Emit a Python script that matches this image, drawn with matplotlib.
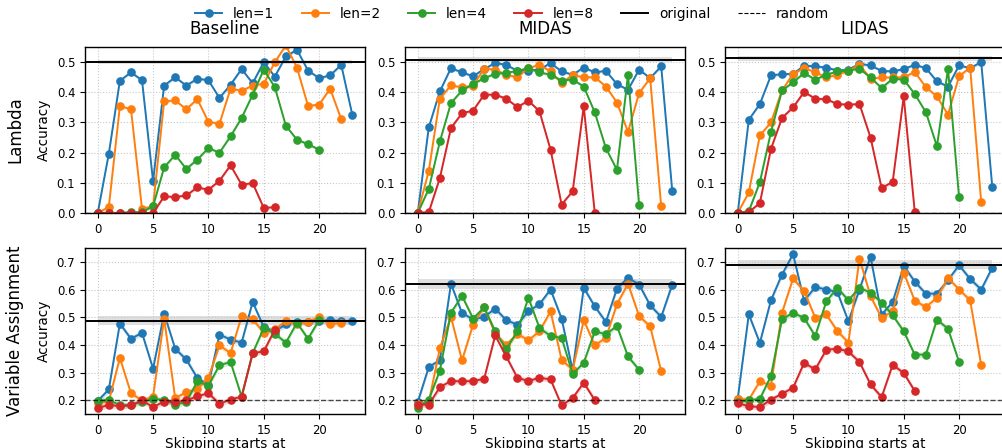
import numpy as np
import matplotlib
matplotlib.use("Agg")
import matplotlib.pyplot as plt
from matplotlib.lines import Line2D

lens = ["len=1", "len=2", "len=4", "len=8"]
colors = ["tab:blue", "tab:orange", "tab:green", "tab:red"]
methods = ["Baseline", "MIDAS", "LIDAS"]
tasks = ["Lambda", "Variable Assignment"]

# Lambda
lam_base_1 = [0.0, 0.196, 0.438, 0.466, 0.44, 0.105, 0.422, 0.45, 0.422, 0.445, 0.44, 0.381,
              0.425, 0.477, 0.43, 0.5, 0.452, 0.519, 0.541, 0.472, 0.447, 0.456, 0.491, 0.326]
lam_base_2 = [0.0, 0.02, 0.353, 0.345, 0.014, 0.022, 0.37, 0.373, 0.344, 0.377, 0.302, 0.296,
              0.412, 0.405, 0.422, 0.428, 0.5, 0.555, 0.482, 0.355, 0.359, 0.412, 0.311]
lam_base_4 = [0.0, 0.0, 0.0, 0.003, 0.003, 0.022, 0.151, 0.193, 0.146, 0.177, 0.215, 0.2,
              0.254, 0.315, 0.392, 0.475, 0.417, 0.289, 0.243, 0.228, 0.21]
lam_base_8 = [0.0, 0.0, 0.0, 0.0, 0.0, 0.0, 0.055, 0.053, 0.058, 0.085, 0.077, 0.107,
              0.158, 0.094, 0.099, 0.017, 0.019]

lam_midas_1 = [0.0, 0.284, 0.403, 0.48, 0.466, 0.453, 0.477, 0.497, 0.491, 0.471, 0.472, 0.475,
               0.497, 0.469, 0.458, 0.482, 0.466, 0.471, 0.427, 0.408, 0.475, 0.447, 0.486, 0.072]
lam_midas_2 = [0.0, 0.14, 0.379, 0.423, 0.416, 0.422, 0.478, 0.475, 0.458, 0.45, 0.48, 0.491,
               0.469, 0.43, 0.458, 0.449, 0.45, 0.419, 0.366, 0.269, 0.397, 0.447, 0.022]
lam_midas_4 = [0.0, 0.08, 0.237, 0.364, 0.406, 0.427, 0.447, 0.461, 0.464, 0.471, 0.48, 0.466,
               0.458, 0.439, 0.442, 0.419, 0.333, 0.215, 0.143, 0.458, 0.028]
lam_midas_8 = [0.0, 0.003, 0.116, 0.281, 0.331, 0.339, 0.392, 0.392, 0.379, 0.351, 0.372, 0.337,
               0.21, 0.028, 0.072, 0.353, 0.0]

lam_lidas_1 = [0.0, 0.309, 0.361, 0.456, 0.46, 0.461, 0.488, 0.486, 0.482, 0.472, 0.475, 0.494,
               0.489, 0.471, 0.469, 0.477, 0.491, 0.48, 0.436, 0.419, 0.489, 0.48, 0.5, 0.086]
lam_lidas_2 = [0.0, 0.068, 0.257, 0.3, 0.406, 0.461, 0.48, 0.467, 0.449, 0.458, 0.471, 0.491,
               0.445, 0.449, 0.449, 0.45, 0.467, 0.417, 0.386, 0.326, 0.453, 0.482, 0.036]
lam_lidas_4 = [0.0, 0.006, 0.102, 0.268, 0.406, 0.433, 0.464, 0.442, 0.458, 0.469, 0.472, 0.478,
               0.449, 0.414, 0.445, 0.442, 0.394, 0.334, 0.221, 0.478, 0.052]
lam_lidas_8 = [0.0, 0.003, 0.033, 0.212, 0.315, 0.35, 0.401, 0.379, 0.377, 0.361, 0.359, 0.361,
               0.25, 0.083, 0.103, 0.386, 0.002]

# Variable Assignment
va_base_1 = [0.197, 0.239, 0.477, 0.422, 0.443, 0.314, 0.513, 0.386, 0.347, 0.28, 0.256, 0.437,
             0.419, 0.408, 0.555, 0.464, 0.449, 0.474, 0.483, 0.483, 0.486, 0.489, 0.486, 0.486]
va_base_2 = [0.19, 0.196, 0.353, 0.225, 0.199, 0.213, 0.495, 0.207, 0.229, 0.24, 0.281, 0.398,
             0.37, 0.504, 0.492, 0.444, 0.456, 0.485, 0.474, 0.483, 0.5, 0.474, 0.479]
va_base_4 = [0.196, 0.202, 0.181, 0.184, 0.193, 0.205, 0.201, 0.184, 0.193, 0.268, 0.253, 0.326,
             0.338, 0.213, 0.37, 0.461, 0.44, 0.408, 0.48, 0.422, 0.489]
va_base_8 = [0.171, 0.183, 0.178, 0.181, 0.199, 0.175, 0.195, 0.193, 0.199, 0.214, 0.225, 0.187,
             0.202, 0.213, 0.37, 0.376, 0.455]

va_midas_1 = [0.193, 0.32, 0.344, 0.621, 0.515, 0.492, 0.501, 0.531, 0.489, 0.473, 0.521, 0.547,
              0.6, 0.495, 0.307, 0.606, 0.539, 0.483, 0.603, 0.642, 0.618, 0.543, 0.501, 0.618]
va_midas_2 = [0.187, 0.193, 0.388, 0.501, 0.344, 0.473, 0.537, 0.44, 0.4, 0.44, 0.416, 0.449,
              0.521, 0.346, 0.31, 0.489, 0.398, 0.425, 0.547, 0.621, 0.504, 0.467, 0.304]
va_midas_4 = [0.172, 0.202, 0.307, 0.516, 0.577, 0.495, 0.535, 0.449, 0.384, 0.449, 0.57, 0.461,
              0.432, 0.425, 0.295, 0.335, 0.449, 0.438, 0.468, 0.358, 0.31]
va_midas_8 = [0.184, 0.184, 0.247, 0.269, 0.268, 0.269, 0.277, 0.434, 0.358, 0.281, 0.269, 0.281,
              0.275, 0.181, 0.208, 0.263, 0.2]

va_lidas_1 = [0.205, 0.51, 0.407, 0.561, 0.654, 0.728, 0.559, 0.609, 0.6, 0.591, 0.485, 0.6,
              0.718, 0.509, 0.555, 0.686, 0.628, 0.585, 0.585, 0.634, 0.688, 0.638, 0.6, 0.679]
va_lidas_2 = [0.205, 0.202, 0.268, 0.253, 0.516, 0.64, 0.594, 0.498, 0.51, 0.45, 0.408, 0.712,
              0.576, 0.497, 0.521, 0.661, 0.559, 0.537, 0.57, 0.642, 0.6, 0.561, 0.326]
va_lidas_4 = [0.193, 0.199, 0.205, 0.287, 0.492, 0.516, 0.497, 0.432, 0.557, 0.606, 0.561, 0.607,
              0.588, 0.553, 0.507, 0.449, 0.364, 0.365, 0.491, 0.458, 0.338]
va_lidas_8 = [0.189, 0.178, 0.175, 0.202, 0.223, 0.245, 0.335, 0.311, 0.382, 0.386, 0.376, 0.338,
              0.257, 0.211, 0.328, 0.298, 0.233]

series = [
    [[lam_base_1, lam_base_2, lam_base_4, lam_base_8],
     [lam_midas_1, lam_midas_2, lam_midas_4, lam_midas_8],
     [lam_lidas_1, lam_lidas_2, lam_lidas_4, lam_lidas_8]],
    [[va_base_1, va_base_2, va_base_4, va_base_8],
     [va_midas_1, va_midas_2, va_midas_4, va_midas_8],
     [va_lidas_1, va_lidas_2, va_lidas_4, va_lidas_8]],
]

# accuracy of the unskipped model and its spread
original = [[0.501, 0.508, 0.512], [0.487, 0.62, 0.689]]
original_std = [[0.006, 0.008, 0.008], [0.017, 0.017, 0.016]]
random_acc = [0.0, 0.2]
run_std = [0.005, 0.01]

ylims = [(0.0, 0.55), (0.15, 0.75)]
yticks = [np.arange(0.0, 0.51, 0.1), np.arange(0.2, 0.71, 0.1)]

W, H = 1002, 448
fig = plt.figure(figsize=(W / 100, H / 100), dpi=100)

ax_w, ax_h = 280, 166
lefts = [85, 405, 725]
tops = [47, 248]

for r in range(2):
    for c in range(3):
        ax = fig.add_axes([lefts[c] / W, 1 - (tops[r] + ax_h) / H, ax_w / W, ax_h / H])
        for k in range(4):
            y = np.array(series[r][c][k])
            x = np.arange(len(y))
            ax.fill_between(x, y - run_std[r], y + run_std[r], color=colors[k], alpha=0.2, lw=0)
            ax.plot(x, y, "-o", color=colors[k], lw=1.4, ms=5.2)
        xs = np.arange(24)
        ax.fill_between(xs, original[r][c] - original_std[r][c], original[r][c] + original_std[r][c],
                        color="gray", alpha=0.25, lw=0)
        ax.axhline(original[r][c], color="k", lw=1.4)
        ax.axhline(random_acc[r], color="k", lw=1.0, ls="--", alpha=0.7)
        ax.set_ylim(*ylims[r])
        ax.set_yticks(yticks[r])
        ax.set_xticks([0, 5, 10, 15, 20])
        ax.grid(True, ls=":", color="#c8c8c8", lw=0.8)
        ax.tick_params(labelsize=8.4, length=3.5)
        for s in ax.spines.values():
            s.set_linewidth(1.0)
        if r == 0:
            ax.set_title(methods[c], fontsize=12, pad=9)
        else:
            ax.set_xlabel("Skipping starts at", fontsize=9.8, labelpad=0)
        if c == 0:
            ax.set_ylabel("Accuracy", fontsize=9.8)

for r in range(2):
    yc = 1 - (tops[r] + ax_h / 2) / H
    fig.text(15 / W, yc, tasks[r], rotation=90, fontsize=12, ha="center", va="center")

handles = [Line2D([], [], color=colors[k], marker="o", lw=1.4, ms=5.2) for k in range(4)]
handles.append(Line2D([], [], color="k", lw=1.4))
handles.append(Line2D([], [], color="k", lw=0.8, ls="--"))
fig.legend(handles, lens + ["original", "random"], loc="center", bbox_to_anchor=(0.511, 0.969),
           ncol=6, frameon=False, fontsize=9.8)

fig.savefig("out.png", dpi=100)
